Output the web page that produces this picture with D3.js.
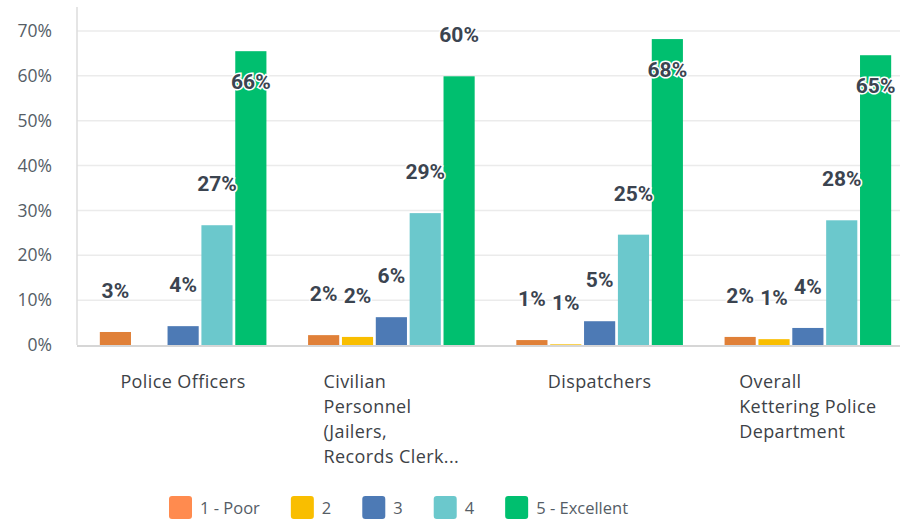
<!DOCTYPE html>
<html>
<head>
<meta charset="utf-8">
<script src="https://cdn.jsdelivr.net/npm/d3@7"></script>
<style>
	body { margin: 0; background: #fff; }
	svg { display: block; font-family: "Open Sans", sans-serif; }
</style>
</head>
<body>
<svg></svg>
<script>
// data (percent)
const categories = [
	"Police Officers",
	"Civilian Personnel (Jailers, Records Clerk...",
	"Dispatchers",
	"Overall Kettering Police Department"
];
const categoryLines = [
	["Police Officers"],
	["Civilian", "Personnel", "(Jailers,", "Records Clerk..."],
	["Dispatchers"],
	["Overall", "Kettering Police", "Department"]
];
const seriesNames = ["1 - Poor", "2", "3", "4", "5 - Excellent"];
const poor = [2.9, 2.2, 1.1, 1.8];
const two = [0, 1.8, 0.15, 1.3];
const three = [4.2, 6.2, 5.3, 3.8];
const four = [26.7, 29.4, 24.6, 27.8];
const excellent = [65.5, 59.9, 68.2, 64.6];
const yTicks = [0, 10, 20, 30, 40, 50, 60, 70];

const seriesValues = [poor, two, three, four, excellent];
const barColors = ["#e08038", "#f9be00", "#4d7ab5", "#6bc8cc", "#00bf6f"];
const legendColors = ["#ff8b4f", "#f9be00", "#4d7ab5", "#6bc8cc", "#00bf6f"];

const size = { w: 900, h: 520 };
const margin = { t: 31, r: 0, b: 175, l: 77 };
const svg = d3.select("svg").attr("width", size.w).attr("height", size.h);

const y = d3.scaleLinear().domain([0, 70]).range([size.h - margin.b, margin.t]);
const x0 = d3.scaleBand().domain(categories).range([79, 912]).paddingInner(0.2).paddingOuter(0.1);
const x1 = d3.scaleBand().domain(seriesNames).range([0, x0.bandwidth()]).paddingInner(0.08);

// gridlines
svg.append("g")
	.selectAll("line")
	.data(yTicks.filter((t) => t > 0))
	.join("line")
	.attr("x1", margin.l)
	.attr("x2", size.w)
	.attr("y1", (d) => y(d))
	.attr("y2", (d) => y(d))
	.attr("stroke", "#ebebeb")
	.attr("stroke-width", 1.5);

// y axis line + labels
svg.append("line")
	.attr("x1", margin.l).attr("x2", margin.l)
	.attr("y1", 7).attr("y2", y(0))
	.attr("stroke", "#dcdcdc").attr("stroke-width", 1.5);

const yAxis = svg.append("g")
	.attr("transform", `translate(${margin.l},0)`)
	.call(d3.axisLeft(y).tickValues(yTicks).tickFormat((d) => d + "%").tickSize(0).tickPadding(25));
yAxis.select(".domain").remove();
yAxis.selectAll("text")
	.attr("font-size", 17.5)
	.attr("font-family", "Open Sans, sans-serif")
	.attr("fill", "#555d66");

// bars
const rows = [];
categories.forEach((c, i) => {
	seriesNames.forEach((s, j) => {
		rows.push({ cat: c, series: s, idx: j, value: seriesValues[j][i] });
	});
});

const barG = svg.append("g");
barG.selectAll("rect")
	.data(rows.filter((d) => d.value > 0))
	.join("rect")
	.attr("x", (d) => x0(d.cat) + x1(d.series))
	.attr("y", (d) => y(d.value))
	.attr("width", x1.bandwidth())
	.attr("height", (d) => y(0) - y(d.value))
	.attr("fill", (d) => barColors[d.idx]);

// baseline
svg.append("line")
	.attr("x1", margin.l).attr("x2", size.w)
	.attr("y1", y(0) + 1).attr("y2", y(0) + 1)
	.attr("stroke", "#d6d6d6").attr("stroke-width", 2);

// value labels
svg.append("g")
	.selectAll("text")
	.data(rows.filter((d) => d.value > 0))
	.join("text")
	.attr("x", (d) => x0(d.cat) + x1(d.series) + x1.bandwidth() / 2)
	.attr("y", (d) => {
		let top = y(d.value);
		return top - 34 < 30 ? top + 38 : top - 34;
	})
	.attr("text-anchor", "middle")
	.attr("font-family", "Roboto, sans-serif")
	.attr("font-size", 21)
	.attr("font-weight", 700)
	.attr("fill", "#3b4450")
	.attr("stroke", "#fff")
	.attr("stroke-width", 3)
	.attr("paint-order", "stroke")
	.text((d) => Math.max(1, Math.round(d.value)) + "%");

// category labels (block left aligned, centered under group)
categories.forEach((c, i) => {
	let t = svg.append("text")
		.attr("font-size", 18)
		.attr("letter-spacing", 0.4)
		.attr("fill", "#3d4247");
	categoryLines[i].forEach((line, k) => {
		t.append("tspan").attr("dy", k === 0 ? 0 : 25).text(line);
	});
	let maxW = d3.max(t.selectAll("tspan").nodes(), (n) => n.getComputedTextLength());
	let left = x0(c) + x0.bandwidth() / 2 - maxW / 2;
	t.attr("y", 388);
	t.selectAll("tspan").attr("x", left);
});

// legend
const legend = svg.append("g").attr("transform", "translate(169,496)");
let lx = 0;
seriesNames.forEach((s, j) => {
	let g = legend.append("g").attr("transform", `translate(${lx},0)`);
	g.append("rect")
		.attr("width", 23).attr("height", 23).attr("rx", 3)
		.attr("fill", legendColors[j]);
	let txt = g.append("text")
		.attr("x", 31).attr("y", 18)
		.attr("font-size", 16.5)
		.attr("fill", "#555d66")
		.text(s);
	lx += 31 + txt.node().getComputedTextLength() + 31;
});
</script>
</body>
</html>
